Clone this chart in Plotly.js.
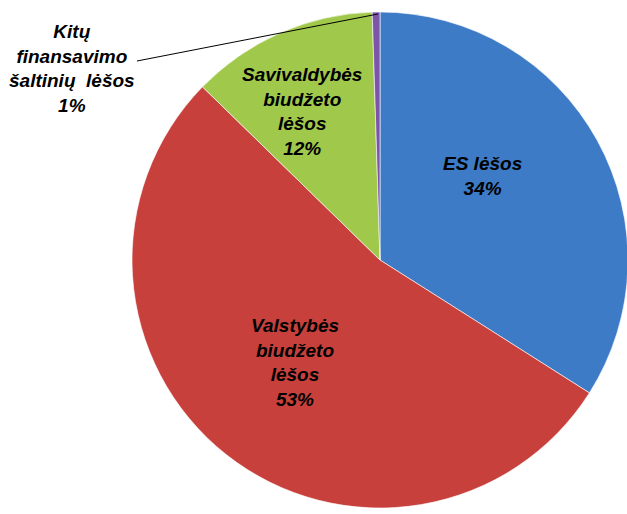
<!DOCTYPE html>
<html>
<head>
<meta charset="utf-8">
<script src="https://cdn.plot.ly/plotly-3.0.1.min.js"></script>
<style>
html,body{margin:0;padding:0;overflow:hidden;background:#fff;width:627px;height:514px;}
#chart{width:640px;height:514px;}
</style>
</head>
<body>
<div id="chart"></div>
<script>
const labels = ["ES lėšos", "Valstybės<br>biudžeto<br>lėšos", "Savivaldybės<br>biudžeto<br>lėšos", "Kitų<br>finansavimo<br>šaltinių  lėšos"];
const values = [34.0, 53.3, 12.2, 0.5];
const pctLabels = ["34%", "53%", "12%", "1%"];
const colors = ["#3d7bc6", "#c7403c", "#a0c94c", "#7d55a8"];

const W = 640, H = 514;
const px = x => x / W;
const py = y => 1 - y / H;

const trace = {
  type: "pie",
  labels: labels,
  values: values,
  sort: false,
  direction: "clockwise",
  rotation: 0,
  marker: {colors: colors, line: {color: "rgba(255,255,255,0.6)", width: 1}},
  textinfo: "none",
  hoverinfo: "none",
  domain: {x: [px(132), px(628)], y: [py(508), py(12)]},
  showlegend: false
};

const font = {family: "Liberation Sans, Arial, sans-serif", size: 19, color: "#000", weight: "bold", style: "italic"};
const labelPos = [[482, 176], [295, 362], [302, 111], [72, 69]];

const annotations = labels.map((l, i) => ({
  xref: "paper", yref: "paper",
  x: px(labelPos[i][0]), y: py(labelPos[i][1]),
  xanchor: "center", yanchor: "middle",
  text: l + "<br>" + pctLabels[i],
  showarrow: false,
  align: "center",
  font: font
}));

const layout = {
  width: W, height: H,
  margin: {l: 0, r: 0, t: 0, b: 0},
  paper_bgcolor: "#fff",
  showlegend: false,
  annotations: annotations,
  shapes: [{
    type: "line", xref: "paper", yref: "paper",
    x0: px(137), y0: py(61), x1: px(378), y1: py(14),
    line: {color: "#000", width: 1}
  }]
};

Plotly.newPlot("chart", [trace], layout, {staticPlot: true, displayModeBar: false});
</script>
</body>
</html>
